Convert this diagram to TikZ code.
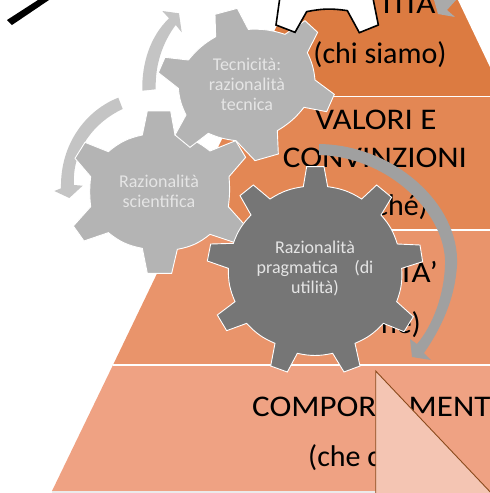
\documentclass[tikz,border=0pt]{standalone}
\usepackage{fontspec}
\setmainfont{Carlito}
\newfontfamily\capsfont[FakeStretch=1.1]{Carlito}
\definecolor{bandA}{HTML}{DC7B41}
\definecolor{bandB}{HTML}{E38754}
\definecolor{bandC}{HTML}{E9946B}
\definecolor{bandD}{HTML}{EFA283}
\definecolor{gearlight}{HTML}{B4B4B4}
\definecolor{geardark}{HTML}{767676}
\definecolor{arrowlight}{HTML}{C4C4C4}
\definecolor{arrowdark}{HTML}{A0A0A0}
\definecolor{trifill}{HTML}{F4C5B3}
\definecolor{tridraw}{HTML}{8A4A1C}
\tikzset{
  bigtext/.style={font=\fontsize{30}{36}\selectfont,text=black,inner sep=0pt},
  capstext/.style={font=\capsfont\fontsize{30}{36}\selectfont,text=black,inner sep=0pt},
  gearlabel/.style={font=\fontsize{18}{20}\selectfont,text=white!90!black,align=center,inner sep=0pt},
  lightgear/.style={fill=gearlight,draw=white,line width=0.9pt,line join=miter},
  darkgear/.style={fill=geardark,draw=white,line width=0.9pt,line join=miter},
  blackgear/.style={fill=white,draw=black,line width=1.6pt,line join=miter},
  band/.style={draw=none},
  divider/.style={draw=white,line width=1.6pt},
}
\begin{document}
\begin{tikzpicture}[x=1pt,y=-1pt]
\clip (0,0) rectangle (490,493);
% pyramid
\path[band,fill=bandA] (299,-20) -- (500,-20) -- (505,96) -- (243,96) -- cycle;
\path[band,fill=bandB] (243,96) -- (510,96) -- (510,230) -- (178,230) -- cycle;
\path[band,fill=bandC] (178,230) -- (510,230) -- (510,365) -- (113,365) -- cycle;
\path[band,fill=bandD] (113,365) -- (510,365) -- (510,491) -- (52,491) -- cycle;
\path[fill=white] (458,0) -- (500,0) -- (500,88) -- cycle;
\draw[divider] (243,96.5) -- (490,96.5);
\draw[divider] (178,230) -- (490,230);
\draw[divider] (113,365) -- (490,365);
\path[fill=black!8] (52,491) rectangle (490,493);
% pyramid texts
\node[capstext,anchor=base] (t1) at (407,13.5) {TITA};
\node[bigtext,anchor=base] (t2) at (380,63) {(chi siamo)};
\node[capstext,anchor=base] (t3) at (376,129) {VALORI E};
\node[capstext,anchor=base] (t4) at (375,167) {CONVINZIONI};
\node[bigtext,anchor=base east] (t5) at (428,215) {ché)};
\node[capstext,anchor=base east] (t6) at (438,282) {TA’};
\node[bigtext,anchor=base east] (t7) at (421,333) {ne)};
\node[capstext,anchor=base west] (t8) at (252,416) {COMPORTAMENT};
\node[bigtext,anchor=base west] (t9) at (308,466) {(che c};
% black stroke
\path[fill=black] (7,20) -- (12,25) -- (49,0) -- (38,0) -- cycle;
% light arrows
\path[fill=arrowlight] (142.3,90.7) .. controls (141.7,63.3) and (150,36.7) .. (169,18.3)
  -- (162.3,11) -- (179,13.3) -- (181.7,32.3) -- (175.7,25)
  .. controls (163.3,41.7) and (155,63.3) .. (155.7,89.3) -- cycle;
\path[fill=arrowlight] (118.3,97.7) .. controls (86.7,110) and (60,143.3) .. (61,188.3)
  -- (54.3,191) -- (69.3,198) -- (82.7,185.7) -- (74,185)
  .. controls (71.7,150) and (95,121.7) .. (122.7,109) -- cycle;
% scientific gear
\begin{scope}[shift={(60,100)},scale=1/3]
\draw[lightgear] (262,33) -- (332,33) -- (345,105) to[bend left=14] (450,153) -- (527,122)
  -- (557,172) -- (507,230) to[bend left=6] (505,320) -- (557,378) -- (525,428) -- (450,403)
  to[bend left=14] (352,448) -- (335,520) -- (262,520) -- (247,445) to[bend left=14] (145,398)
  -- (72,423) -- (40,378) -- (92,320) to[bend left=6] (92,230) -- (45,175) -- (75,127)
  -- (145,155) to[bend left=14] (247,105) -- cycle;
\end{scope}
% technical gear
\begin{scope}[shift={(150,0)},scale=1/3]
\draw[lightgear] (195,43) -- (262,25) -- (295,88) to[bend left=10] (405,103) -- (465,62)
  -- (503,97) -- (472,158) to[bend left=10] (495,240) -- (553,283) -- (530,335) -- (462,322)
  to[bend left=10] (382,392) -- (385,462) -- (315,482) -- (258,422) to[bend left=8] (175,400)
  -- (120,442) -- (75,405) -- (108,345) to[bend left=10] (85,265) -- (25,218) -- (45,172)
  -- (115,180) to[bend left=10] (197,110) -- cycle;
\end{scope}
% pragmatic gear
\begin{scope}[shift={(200,160)},scale=1/3]
\draw[darkgear] (320,20) -- (372,20) -- (383,80) to[bend left=12] (485,117) -- (530,75)
  -- (575,112) -- (543,165) to[bend left=12] (592,252) -- (660,255) -- (668,305) -- (605,325)
  to[bend left=12] (590,425) -- (640,470) -- (612,515) -- (550,490) to[bend left=12] (465,550)
  -- (480,618) -- (432,636) -- (398,580) to[bend left=12] (292,580) -- (262,636) -- (212,618)
  -- (225,550) to[bend left=12] (140,490) -- (80,512) -- (52,465) -- (105,425)
  to[bend left=12] (85,325) -- (22,303) -- (32,252) -- (100,250) to[bend left=12] (153,165)
  -- (120,107) -- (160,75) -- (210,117) to[bend left=12] (310,80) -- cycle;
\end{scope}
% white gear at the top
\begin{scope}[shift={(260,0)},scale=1/3]
\draw[blackgear] (60,-10) -- (48,75) -- (105,97) -- (140,35) to[bend left=10] (262,32)
  -- (298,98) -- (355,75) -- (338,-10) -- cycle;
\end{scope}
% dark arrows
\path[fill=arrowdark] (319,144) .. controls (395,145) and (460,205) .. (457,265)
  .. controls (455,300) and (440,330) .. (424,353) -- (431,360) -- (412,357) -- (410,339)
  -- (417,344) .. controls (433,325) and (444,295) .. (445,265)
  .. controls (447,215) and (390,157) .. (319,155) -- cycle;
\path[fill=arrowdark!90!white] (434,0) -- (438,14) -- (455,17) -- (447,10) -- (456,0) -- cycle;
% triangle
\draw[fill=trifill,draw=tridraw,line width=0.9pt] (375.7,371) -- (495,497) -- (375.7,497) -- cycle;
% gear labels
\node[gearlabel] (g1) at (159,191) {Razionalità\\scientifica};
\node[gearlabel] (g2) at (247,84) {Tecnicità:\\razionalità\\tecnica};
\node[gearlabel] (g3) at (315,268) {Razionalità\\pragmatica\ \ \ \ (di\\utilità)};
\end{tikzpicture}
\end{document}
